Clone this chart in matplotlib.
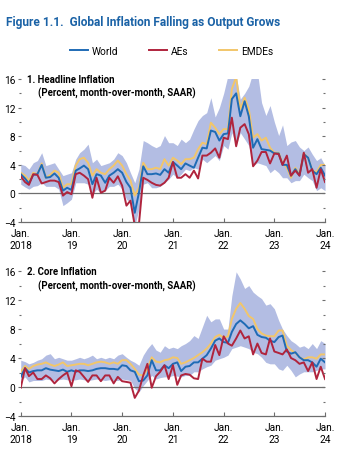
import matplotlib
matplotlib.use("Agg")
import matplotlib.pyplot as plt
import numpy as np
import pandas as pd

plt.rcParams['font.family'] = ['Roboto', 'Liberation Sans', 'DejaVu Sans']

# monthly observations, Jan 2018 .. Jan 2024
months = pd.date_range("2018-01-01", "2024-01-01", freq="MS")

# 1. headline inflation
head_world = [2.7, 2.1, 1.4, 2.6, 2.7, 4.0, 2.2, 2.3, 2.8, 2.2, 0.4, 0.8,
              0.5, 3.2, 3.5, 3.9, 3.4, 1.3, 2.7, 2.5, 1.5, 2.5, 2.9, 3.4,
              2.9, 1.6, 0.8, -2.7, 0.1, 3.8, 2.7, 2.7, 2.8, 2.6, 3.4, 2.9,
              4.4, 3.9, 3.4, 4.2, 3.9, 3.6, 5.0, 6.4, 6.3, 8.8, 8.6, 7.4,
              8.3, 8.4, 13.2, 14.0, 10.8, 12.9, 10.8, 6.4, 7.6, 6.2, 6.1, 6.0,
              5.6, 5.6, 4.0, 4.0, 2.5, 3.4, 2.5, 5.5, 5.0, 3.2, 2.7, 3.6, 2.5]
head_aes = [2.4, 1.6, 1.2, 2.7, 2.6, 1.4, 1.6, 1.8, 1.8, 1.6, -0.3, 0.2,
            -0.1, 2.7, 2.9, 2.5, 2.0, -0.6, 2.2, 0.1, 0.4, 2.2, 1.5, 2.4,
            1.1, -1.7, -1.0, -4.5, -4.3, 2.2, 1.9, 1.5, 1.2, 1.1, 1.5, 2.2,
            4.4, 2.2, 2.2, 2.7, 2.2, 3.2, 2.1, 5.3, 5.3, 5.7, 6.3, 5.0,
            7.8, 7.6, 10.6, 6.6, 9.2, 9.7, 8.3, 3.8, 4.6, 5.8, 5.8, 4.2,
            5.6, 5.5, 4.0, 5.3, 2.5, 3.2, 2.5, 5.7, 2.9, 3.4, 0.8, 3.4, 1.6]
head_emdes = [2.9, 2.5, 1.8, 2.9, 2.7, 4.2, 2.2, 2.6, 3.2, 2.9, 0.8, 1.3,
              1.3, 3.9, 4.8, 5.0, 4.3, 2.5, 3.4, 2.9, 2.7, 3.4, 3.9, 4.6,
              3.9, 2.7, 1.8, -0.3, 0.8, 4.3, 3.4, 3.4, 3.6, 3.4, 4.8, 3.9,
              5.0, 4.6, 4.1, 4.8, 4.8, 5.0, 6.2, 7.1, 6.9, 9.9, 9.2, 8.3,
              9.0, 9.0, 14.6, 16.3, 11.8, 13.4, 11.8, 7.8, 8.3, 7.4, 7.8, 6.4,
              5.7, 5.7, 4.3, 3.6, 2.2, 3.6, 2.7, 5.6, 5.0, 3.2, 3.0, 4.0, 4.0]
head_hi = [4.1, 3.9, 3.4, 4.3, 4.6, 5.7, 3.9, 4.1, 4.3, 3.4, 2.5, 2.7,
           2.9, 4.8, 5.7, 6.2, 6.9, 4.3, 4.8, 3.9, 4.1, 4.3, 4.8, 5.7,
           5.3, 4.3, 2.9, 1.5, 3.4, 7.4, 7.1, 6.7, 6.4, 6.7, 8.1, 7.1,
           7.1, 6.7, 7.6, 7.1, 7.6, 9.0, 10.2, 10.9, 11.3, 13.4, 10.7, 12.0,
           14.0, 16.5, 17.0, 16.5, 13.2, 14.0, 15.0, 17.0, 17.0, 12.7, 10.9, 12.3,
           10.0, 8.1, 9.6, 6.7, 7.2, 7.4, 6.5, 6.0, 6.5, 5.5, 4.6, 5.0, 3.9]
head_lo = [1.3, 0.9, 0.6, 1.0, 1.1, 1.5, 1.0, 1.0, 1.0, 0.6, -1.7, -1.3,
           -0.8, 1.5, 1.5, 1.5, 1.3, -0.1, 0.6, 0.1, 0.4, 1.0, 1.0, 1.3,
           0.6, -0.8, -1.3, -4.5, -2.2, 1.3, 1.5, 0.8, 0.8, 1.0, 1.5, 2.0,
           2.7, 2.2, 2.7, 3.4, 3.2, 3.6, 3.4, 4.8, 4.3, 4.8, 5.3, 4.6,
           6.7, 6.2, 8.5, 6.7, 8.5, 7.6, 6.7, 3.9, 4.3, 4.1, 3.9, 2.9,
           3.4, 2.9, 2.2, 2.2, 1.5, 1.8, 1.8, 2.7, 2.2, 1.8, 0.4, 0.8, 0.4]

# 2. core inflation
core_world = [1.4, 2.6, 2.0, 2.2, 2.3, 2.3, 2.6, 2.4, 2.3, 2.2, 2.4, 2.1,
              2.3, 2.1, 2.3, 2.3, 2.2, 2.3, 2.5, 2.6, 2.6, 2.5, 2.5, 2.4,
              3.0, 2.9, 2.3, 2.1, 0.8, 0.9, 1.6, 3.7, 2.3, 2.3, 3.0, 2.6,
              3.2, 3.4, 2.2, 2.8, 2.9, 3.4, 3.4, 3.9, 4.4, 5.3, 6.4, 6.7,
              6.2, 6.1, 7.6, 8.7, 9.2, 8.7, 8.1, 8.4, 7.2, 6.9, 6.8, 6.4,
              6.2, 6.9, 7.1, 4.9, 4.6, 4.8, 4.1, 3.7, 3.7, 3.4, 2.8, 3.9, 3.4]
core_aes = [-0.1, 2.6, 1.5, 2.0, 1.1, 1.1, 1.6, 1.2, 0.5, 1.1, 1.6, 2.0,
            0.1, 2.3, 2.1, 1.4, 0.7, 1.6, 1.6, 0.8, 1.6, 1.6, 0.5, 1.4,
            0.8, 0.7, 0.6, -1.5, -0.5, 1.6, 3.2, -0.1, 1.5, 2.1, 3.0, 1.1,
            3.0, 0.3, 1.6, 1.8, 1.7, 1.2, 1.1, 3.9, 3.5, 3.5, 5.8, 4.4,
            7.0, 6.0, 5.7, 6.7, 7.8, 6.7, 7.0, 4.5, 6.0, 4.7, 4.5, 6.7,
            4.9, 4.7, 4.5, 5.2, 4.0, 3.7, 3.2, 3.4, 2.2, 3.4, 1.1, 2.8, 1.1]
core_emdes = [2.1, 2.9, 2.5, 2.9, 3.1, 3.2, 3.4, 3.1, 2.9, 3.1, 3.4, 2.9,
              3.0, 3.1, 3.2, 3.2, 3.0, 3.2, 3.4, 3.5, 3.4, 3.2, 3.4, 3.2,
              3.7, 3.7, 3.2, 2.5, 1.7, 1.6, 2.5, 4.1, 3.5, 3.4, 3.7, 3.8,
              4.1, 4.0, 3.2, 3.4, 3.7, 4.0, 4.4, 4.8, 5.3, 6.0, 6.9, 7.2,
              6.8, 7.0, 9.4, 10.8, 11.6, 10.8, 9.8, 9.4, 8.0, 7.4, 7.1, 7.0,
              7.0, 7.8, 7.8, 5.7, 5.1, 4.7, 4.1, 3.8, 4.1, 4.1, 3.9, 4.5, 4.5]
core_hi = [3.7, 3.5, 3.2, 3.4, 3.7, 3.9, 4.4, 4.6, 3.9, 4.1, 3.9, 3.7,
           3.7, 3.9, 4.1, 3.9, 4.1, 4.4, 3.9, 4.1, 3.9, 4.1, 3.9, 4.4,
           4.6, 4.1, 3.7, 3.4, 3.0, 4.4, 5.3, 6.0, 5.1, 4.8, 5.7, 5.3,
           5.5, 5.3, 5.7, 6.0, 6.4, 7.1, 6.7, 8.3, 9.9, 9.0, 9.4, 9.4,
           8.0, 8.0, 12.6, 15.9, 14.9, 13.6, 14.0, 13.1, 12.6, 12.2, 11.3, 11.5,
           10.8, 9.2, 8.0, 7.1, 6.4, 6.0, 5.5, 5.7, 5.3, 6.0, 5.3, 6.4, 6.0]
core_lo = [0.9, 1.4, 0.7, 0.9, 0.9, 0.9, 1.1, 1.0, 0.9, 1.0, 1.1, 1.0,
           0.9, 1.0, 1.1, 1.0, 0.9, 1.0, 1.1, 1.0, 0.9, 1.0, 0.9, 0.9,
           1.1, 1.0, 0.9, -0.2, -0.7, 0.2, 0.9, 1.6, 1.1, 1.3, 1.4, 1.4,
           1.6, 1.5, 1.4, 1.6, 1.6, 2.1, 2.1, 2.5, 2.8, 3.0, 3.7, 3.9,
           4.1, 4.4, 5.3, 5.5, 5.7, 5.5, 5.3, 4.8, 4.6, 4.1, 3.4, 3.2,
           3.2, 2.5, 2.3, 3.0, 2.3, 1.4, 1.8, 2.1, 2.1, 2.1, 2.3, 2.5, 2.5]

x_ticks = pd.date_range("2018-01-01", "2024-01-01", freq="YS")
x_labels = ["Jan.\n2018", "Jan.\n19", "Jan.\n20", "Jan.\n21", "Jan.\n22", "Jan.\n23", "Jan.\n24"]

blue = "#1f6bb5"
red = "#b0243d"
yellow = "#f2c66a"
band = "#b3bde3"
grey = "#6e6e6e"

fig = plt.figure(figsize=(3.4, 4.6), dpi=100)

fig.text(0.018, 0.952, "Figure 1.1.  Global Inflation Falling as Output Grows",
         color="#1a62a6", fontsize=8.6, fontweight="bold", va="center")


def draw_panel(ax, world, aes, emdes, lo, hi, line1, line2):
    ax.fill_between(months, lo, hi, color=band, lw=0, zorder=1)
    ax.axhline(0, color=grey, lw=0.9, zorder=2)
    ax.plot(months, emdes, color=yellow, lw=1.4, zorder=3)
    ax.plot(months, world, color=blue, lw=1.4, zorder=4)
    ax.plot(months, aes, color=red, lw=1.4, zorder=5)
    ax.set_xlim(months[0], months[-1])
    ax.set_ylim(-4, 16)
    ax.set_yticks([-4, 0, 4, 8, 12, 16])
    ax.set_yticks([-2, 2, 6, 10, 14], minor=True)
    ax.set_yticklabels(["\u22124", "0", "4", "8", "12", "16"])
    ax.set_xticks(x_ticks)
    ax.set_xticklabels(x_labels, linespacing=1.25)
    for s in ("top", "left", "right"):
        ax.spines[s].set_visible(False)
    ax.spines["bottom"].set_color(grey)
    ax.spines["bottom"].set_linewidth(0.9)
    ax.tick_params(axis="y", which="both", left=True, right=False, direction="out",
                   length=2.5, width=0.8, color=grey, labelsize=7.3, pad=1.5)
    ax.tick_params(axis="y", which="minor", length=1.2)
    ax.tick_params(axis="x", direction="in", length=3, width=0.8, color=grey,
                   labelsize=7.3, pad=4)

    # tick marks along the right edge, no labels
    rax = ax.twinx()
    rax.set_ylim(-4, 16)
    rax.set_yticks([-4, 0, 4, 8, 12, 16])
    rax.set_yticks([-2, 2, 6, 10, 14], minor=True)
    rax.tick_params(axis="y", which="both", direction="in", length=2.5,
                    width=0.8, color=grey, labelright=False)
    rax.tick_params(axis="y", which="minor", length=1.2)
    for s in rax.spines.values():
        s.set_visible(False)

    ax.text(0.02, 1.0, line1, transform=ax.transAxes, fontsize=6.9,
            fontweight="bold", va="center", ha="left")
    ax.text(0.058, 0.905, line2, transform=ax.transAxes, fontsize=6.9,
            fontweight="bold", va="center", ha="left")


ax1 = fig.add_axes([0.061, 0.515, 0.895, 0.311])
draw_panel(ax1, head_world, head_aes, head_emdes, head_lo, head_hi,
           "1. Headline Inflation", "(Percent, month-over-month, SAAR)")

ax2 = fig.add_axes([0.061, 0.0935, 0.895, 0.315])
draw_panel(ax2, core_world, core_aes, core_emdes, core_lo, core_hi,
           "2. Core Inflation", "(Percent, month-over-month, SAAR)")

# legend above the top panel
handles = [plt.Line2D([], [], color=c, lw=1.4) for c in (blue, red, yellow)]
fig.legend(handles, ["World", "AEs", "EMDEs"], loc="center",
           bbox_to_anchor=(0.505, 0.887), ncol=3, frameon=False, fontsize=7.3,
           handlelength=1.8, handletextpad=0.4, columnspacing=3.0)

fig.savefig("out.png", dpi=100)
